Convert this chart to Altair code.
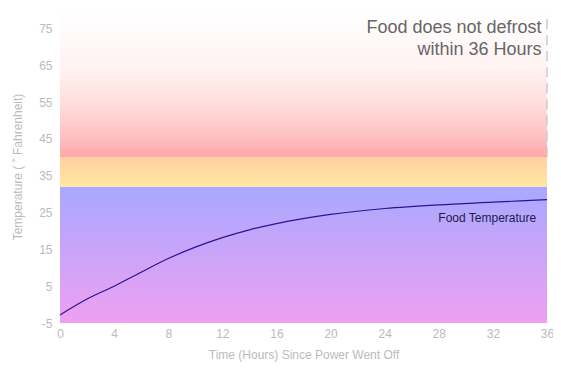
import altair as alt
import pandas as pd

# Data
hours = [0, 2, 4, 6, 8, 10, 12, 14, 16, 20, 24, 28, 32, 36]
temps = [-2.8, 1.5, 5.0, 8.8, 12.5, 15.6, 18.2, 20.3, 22.0, 24.5, 26.1, 27.1, 27.8, 28.5]

band_names = ["Frozen", "Thawing", "Danger"]
band_lo = [-5, 32, 40]
band_hi = [32, 40, 80]
# gradient stops from bottom (offset 0) to top (offset 1)
band_stop_offsets = [[0, 1], [0, 1], [0, 0.15, 0.35, 0.6, 1]]
band_stop_colors = [["#eea0f2", "#a8a8ff"],
                    ["#ffe8a2", "#ffd0a0"],
                    ["#ffa8a8", "#ffc2c2", "#ffdcdc", "#fff2f2", "#ffffff"]]

x_ticks = [0, 4, 8, 12, 16, 20, 24, 28, 32, 36]
y_ticks = [-5, 5, 15, 25, 35, 45, 55, 65, 75]

note_lines = ["Food does not defrost", "within 36 Hours"]
line_label = "Food Temperature"

W, H = 487, 313
FONT = "Liberation Sans"

df = pd.DataFrame({"h": hours, "t": temps})

xs = alt.Scale(domain=[0, 36], nice=False, zero=False)
ys = alt.Scale(domain=[-5, 80], nice=False, zero=False)

x_axis = alt.Axis(values=x_ticks, title="Time (Hours) Since Power Went Off",
                  grid=False, ticks=False, domain=False, labelPadding=5,
                  titlePadding=10, labelOverlap=False, labelFlush=False)
y_axis = alt.Axis(values=y_ticks, title="Temperature ( ˚ Fahrenheit)",
                  grid=False, ticks=False, domain=True, labelPadding=8,
                  titlePadding=14, labelOverlap=False, labelFlush=False,
                  labelExpr="'' + datum.value")

layers = []
for i in range(len(band_names)):
    bdf = pd.DataFrame({"x0": [0], "x1": [36], "y0": [band_lo[i]], "y1": [band_hi[i]]})
    grad = alt.Gradient(
        gradient="linear",
        stops=[alt.GradientStop(color=c, offset=o)
               for o, c in zip(band_stop_offsets[i], band_stop_colors[i])],
        x1=0, x2=0, y1=1, y2=0,
    )
    layers.append(
        alt.Chart(bdf).mark_rect(color=grad, strokeWidth=0).encode(
            x=alt.X("x0:Q", scale=xs, axis=x_axis), x2="x1:Q",
            y=alt.Y("y0:Q", scale=ys, axis=y_axis), y2="y1:Q",
        )
    )

line = alt.Chart(df).mark_line(color="#2a1590", strokeWidth=1.2, interpolate="monotone").encode(
    x=alt.X("h:Q", scale=xs, axis=x_axis), y=alt.Y("t:Q", scale=ys, axis=y_axis)
)

rule_df = pd.DataFrame({"h": [36], "a": [40], "b": [78]})
rule = alt.Chart(rule_df).mark_rule(color="#cccccc", strokeDash=[10, 6], strokeWidth=1.5).encode(
    x=alt.X("h:Q", scale=xs, axis=x_axis), y=alt.Y("a:Q", scale=ys, axis=y_axis), y2="b:Q"
)

note_df = pd.DataFrame({"h": [35.6, 35.6], "t": [75.0, 69.1], "txt": note_lines})
note = alt.Chart(note_df).mark_text(align="right", baseline="middle", fontSize=18,
                                   font=FONT, color="#666666").encode(
    x=alt.X("h:Q", scale=xs, axis=x_axis), y=alt.Y("t:Q", scale=ys, axis=y_axis), text="txt:N"
)

lab_df = pd.DataFrame({"h": [35.2], "t": [23.5], "txt": [line_label]})
lab = alt.Chart(lab_df).mark_text(align="right", baseline="middle", fontSize=12,
                                  font=FONT, color="#1c1c50").encode(
    x=alt.X("h:Q", scale=xs, axis=x_axis), y=alt.Y("t:Q", scale=ys, axis=y_axis), text="txt:N"
)

chart = alt.layer(*layers, rule, line, note, lab).properties(
    width=W, height=H,
    autosize=alt.AutoSizeParams(type="none"),
    padding={"left": 52, "top": 2, "right": 6, "bottom": 44},
).configure_view(stroke=None).configure_axis(
    labelFont=FONT, titleFont=FONT, labelColor="#bbbbbb", titleColor="#bbbbbb",
    labelFontSize=12, titleFontSize=12, titleFontWeight="normal", domainColor="#e6e6e6",
)

chart.save("out.html", embed_options={"renderer": "svg", "actions": False})
